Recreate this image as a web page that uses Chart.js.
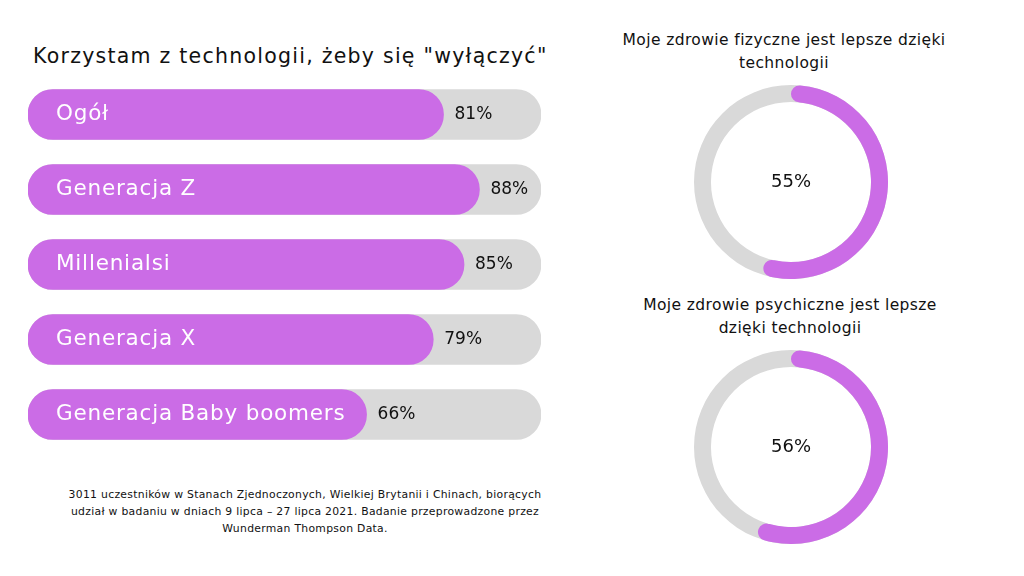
<!DOCTYPE html>
<html><head><meta charset="utf-8">
<script src="https://cdn.jsdelivr.net/npm/chart.js@4"></script>
<style>
html,body{margin:0;padding:0;background:#fff;}
body{width:1024px;height:576px;position:relative;overflow:hidden;font-family:"DejaVu Sans",sans-serif;color:#111;}
.t{position:absolute;white-space:nowrap;}
canvas{position:absolute;}
</style></head><body>
<div class="t" id="mainTitle" style="left:33px;top:41px;font-size:20.5px;line-height:30px;letter-spacing:1.25px;"></div>
<canvas id="bars" width="513" height="375" style="left:28px;top:77px;"></canvas>
<div class="t" id="d1t" style="left:584px;top:29px;width:400px;text-align:center;font-size:15.5px;line-height:23px;letter-spacing:0.4px;white-space:normal;"></div>
<canvas id="d1" width="194" height="194" style="left:694px;top:85px;"></canvas>
<div class="t" id="d2t" style="left:590px;top:294px;width:400px;text-align:center;font-size:15.5px;line-height:23px;letter-spacing:0.4px;white-space:normal;"></div>
<canvas id="d2" width="194" height="194" style="left:694px;top:350px;"></canvas>
<div class="t" id="foot" style="left:40px;top:486px;width:530px;text-align:center;font-size:10.8px;line-height:17px;letter-spacing:0.3px;white-space:normal;"></div>
<script>
const mainTitle = 'Korzystam z technologii, żeby się "wyłączyć"';
const categories = ['Ogół','Generacja Z','Millenialsi','Generacja X','Generacja Baby boomers'];
const values = [81, 88, 85, 79, 66];
const trackValues = [100, 100, 100, 100, 100];
const donutTitles = ['Moje zdrowie fizyczne jest lepsze dzięki<br>technologii','Moje zdrowie psychiczne jest lepsze<br>dzięki technologii'];
const donutValues = [55, 56];
const footnote = '3011 uczestników w Stanach Zjednoczonych, Wielkiej Brytanii i Chinach, biorących<br>udział w badaniu w dniach 9 lipca – 27 lipca 2021. Badanie przeprowadzone przez<br>Wunderman Thompson Data.';

const PURPLE = '#CB6CE6', GREY = '#D9D9D9';
document.getElementById('mainTitle').textContent = mainTitle;
document.getElementById('d1t').innerHTML = donutTitles[0];
document.getElementById('d2t').innerHTML = donutTitles[1];
document.getElementById('foot').innerHTML = footnote;

const barLabels = {
  id:'barLabels',
  afterDatasetsDraw(chart){
    const ctx = chart.ctx;
    const meta = chart.getDatasetMeta(1);
    ctx.save();
    ctx.textBaseline = 'middle';
    meta.data.forEach((bar,i)=>{
      ctx.font = '21.5px "DejaVu Sans"';
      ctx.letterSpacing = '0.8px';
      ctx.fillStyle = '#fff';
      ctx.textAlign = 'left';
      ctx.fillText(categories[i], bar.base + 28, bar.y);
      ctx.font = '17px "DejaVu Sans"';
      ctx.letterSpacing = '0px';
      ctx.fillStyle = '#111';
      ctx.fillText(values[i] + '%', bar.x + 11, bar.y);
    });
    ctx.restore();
  }
};

new Chart(document.getElementById('bars'), {
  type:'bar',
  data:{labels:categories, datasets:[
    {data:trackValues, backgroundColor:GREY, borderRadius:25, borderSkipped:false, barThickness:50, grouped:false, order:2},
    {data:values, backgroundColor:PURPLE, borderRadius:25, borderSkipped:false, barThickness:50, grouped:false, order:1}
  ]},
  options:{indexAxis:'y', responsive:false, animation:false, devicePixelRatio:1,
    layout:{padding:0},
    plugins:{legend:{display:false}, tooltip:{enabled:false}},
    scales:{x:{display:false,min:0,max:100}, y:{display:false}}
  },
  plugins:[barLabels]
});

const ringBg = {
  id:'ringBg',
  beforeDatasetsDraw(chart){
    const arc = chart.getDatasetMeta(0).data[0];
    const ctx = chart.ctx;
    ctx.save();
    ctx.beginPath();
    ctx.arc(arc.x, arc.y, arc.outerRadius, 0, Math.PI*2);
    ctx.arc(arc.x, arc.y, arc.innerRadius, Math.PI*2, 0, true);
    ctx.closePath();
    ctx.fillStyle = GREY;
    ctx.fill();
    ctx.restore();
  },
  afterDraw(chart){
    const arc = chart.getDatasetMeta(0).data[0];
    const ctx = chart.ctx;
    ctx.save();
    ctx.font = '18px "DejaVu Sans"';
    ctx.fillStyle = '#111';
    ctx.textAlign = 'center';
    ctx.textBaseline = 'middle';
    ctx.fillText(chart.data.datasets[0].data[0] + '%', arc.x, arc.y);
    ctx.restore();
  }
};

function donut(id, v){
  new Chart(document.getElementById(id), {
    type:'doughnut',
    data:{labels:['tak','reszta'], datasets:[{data:[v, 100-v], backgroundColor:[PURPLE,'rgba(0,0,0,0)'], borderWidth:0, borderRadius:[10,0]}]},
    options:{responsive:false, animation:false, devicePixelRatio:1, cutout:'82.5%',
      layout:{padding:0},
      plugins:{legend:{display:false}, tooltip:{enabled:false}}},
    plugins:[ringBg]
  });
}
donut('d1', donutValues[0]);
donut('d2', donutValues[1]);
</script>
</body></html>
